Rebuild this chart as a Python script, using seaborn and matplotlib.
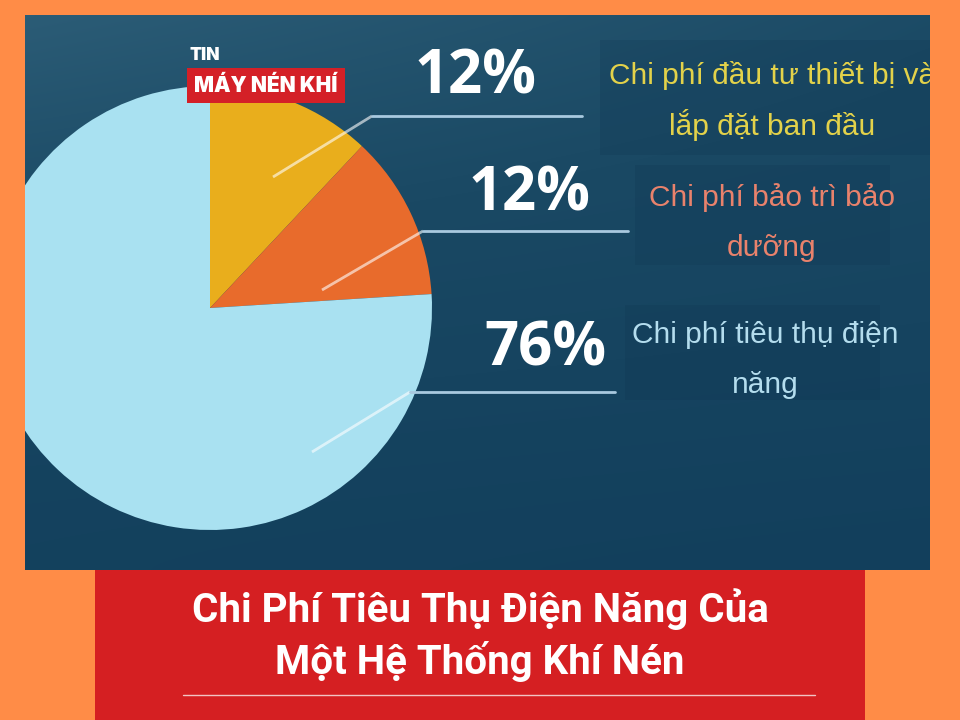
import matplotlib
matplotlib.use("Agg")
import matplotlib.pyplot as plt
import numpy as np
import seaborn as sb
from matplotlib.patches import Rectangle

# chart data
shares = [12, 12, 76]
labels = [["Chi phí đầu tư thiết bị và", "lắp đặt ban đầu"],
          ["Chi phí bảo trì bảo", "dưỡng"],
          ["Chi phí tiêu thụ điện", "năng"]]
slice_colors = ["#E9AE1C", "#E86B2C", "#A9E1F1"]
label_colors = ["#E3D24A", "#E9826C", "#B4DDEE"]
title_lines = ["Chi Phí Tiêu Thụ Điện Năng Của", "Một Hệ Thống Khí Nén"]
badge_top = "TIN"
badge_main = "MÁY NÉN KHÍ"

sb.set_theme(style="white")
plt.rcParams["font.family"] = ["Liberation Sans", "DejaVu Sans"]

W, H = 960, 720
fig = plt.figure(figsize=(9.6, 7.2), dpi=100, facecolor="#FF8C47")

# back axes: whole figure in pixel coords (y down)
bg = fig.add_axes([0, 0, 1, 1])
bg.set_xlim(0, W)
bg.set_ylim(H, 0)
bg.axis("off")

# panel axes: the dark blue picture, pixel coords, clips the pie
px0, py0, px1, py1 = 25, 15, 930, 570
ax = fig.add_axes([px0 / W, 1 - py1 / H, (px1 - px0) / W, (py1 - py0) / H])
ax.set_facecolor("#1B4A64")

yy, xx = np.mgrid[0:1:120j, 0:1:160j]
grad = 0.6 * (1 - xx) * (1 - yy) ** 1.5 + 0.3 * (1 - yy) * xx - 0.08 * xx * yy
ax.imshow(grad, cmap=sb.blend_palette(["#123F5C", "#1A4964", "#2B5C76"], as_cmap=True),
          extent=(px0, px1, py1, py0), origin="upper", aspect="auto", zorder=0.5,
          interpolation="bicubic")

# subtle boxes behind the descriptions
for (x0, y0, w, h) in [(600, 40, 330, 115), (635, 165, 255, 100), (625, 305, 255, 95)]:
    ax.add_patch(Rectangle((x0, y0), w, h, facecolor="#0E3450", alpha=0.22,
                           edgecolor="none", zorder=1))

# pie (y axis is inverted, so counterclock here is clockwise on screen)
wedges, _ = ax.pie(shares, colors=slice_colors, center=(210, 308), radius=222,
                   startangle=-90, counterclock=True, frame=True,
                   wedgeprops=dict(linewidth=0))
for w in wedges:
    w.set_zorder(2)
    w.set_clip_on(True)

# leader lines
leaders = [[(273, 177), (372, 116), (582, 116)],
           [(322, 290), (423, 231), (628, 231)],
           [(312, 452), (410, 392), (615, 392)]]
for pts in leaders:
    (x0, y0), (x1, y1), (x2, y2) = pts
    ax.plot([x0, x1], [y0, y1], color="white", alpha=0.6, lw=2, zorder=3,
            solid_capstyle="butt")
    ax.plot([x1, x2], [y1, y2], color="#A9C9DF", lw=2, zorder=3)

# percentages
pct_pos = [(475, 78), (530, 195), (545, 350)]
for v, (tx, ty) in zip(shares, pct_pos):
    ax.text(tx, ty, f"{v}%", color="white", fontsize=43, fontweight="bold",
            family=["Open Sans", "DejaVu Sans"], ha="center", va="center", zorder=4)

# descriptions, one line at a time so the spacing stays even
desc_pos = [(772, 75), (772, 198), (765, 335)]
for lines, col, (dx, dy) in zip(labels, label_colors, desc_pos):
    for i, line in enumerate(lines):
        ax.text(dx, dy + 50 * i, line, color=col, fontsize=21.5, ha="center",
                va="center", zorder=4, clip_on=True)

ax.set_xlim(px0, px1)
ax.set_ylim(py1, py0)
ax.set_aspect("auto")
ax.axis("off")

# badge
ax.text(189, 56, badge_top, color="white", fontsize=12.5, fontweight="black",
        family=["Inter", "DejaVu Sans"], ha="left", va="center", zorder=5)
ax.add_patch(Rectangle((187, 68), 158, 35, facecolor="#D42027", edgecolor="none", zorder=5))
ax.text(266, 86, badge_main, color="white", fontsize=15, fontweight="black",
        family=["Inter", "DejaVu Sans"], ha="center", va="center", zorder=6)

# red title banner
bg.add_patch(Rectangle((95, 570), 770, 150, facecolor="#D51F22", edgecolor="none", zorder=5))
for i, line in enumerate(title_lines):
    bg.text(480, 609 + 52 * i, line, color="white", fontsize=29, fontweight="bold",
            family=["Roboto", "DejaVu Sans"], ha="center", va="center", zorder=6)
bg.plot([183, 815], [695, 695], color="#F2C4C4", lw=1, zorder=6)

fig.savefig("out.png", dpi=100, facecolor=fig.get_facecolor())
